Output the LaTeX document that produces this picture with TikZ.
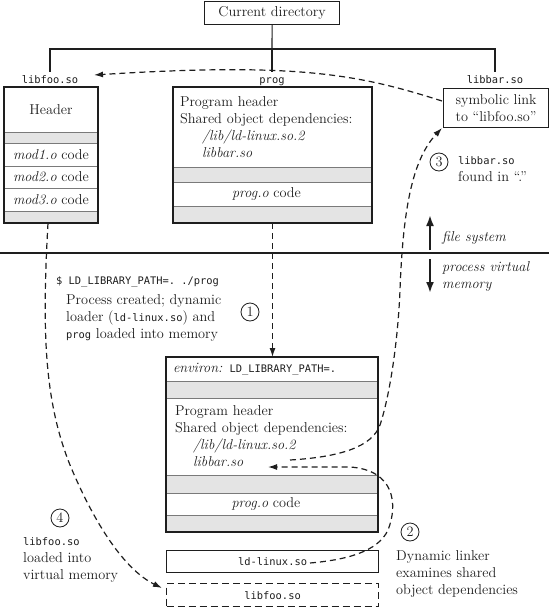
\documentclass[tikz,border=0pt]{standalone}
\usepackage{fontspec}
\setmonofont{DejaVu Sans Mono}
\usetikzlibrary{arrows.meta}
\newcommand\monot[1]{{\fontsize{10.4}{17}\selectfont\ttfamily #1}}
\definecolor{ink}{HTML}{1E1E1E}
\definecolor{band}{HTML}{E4E4E4}
\definecolor{divider}{HTML}{7A7A7A}
\begin{document}
\begin{tikzpicture}[x=1pt,y=-1pt,
  every node/.style={font=\fontsize{14.3}{17}\selectfont, text=ink},
  row/.style={draw=divider, line width=0.6pt, inner sep=0pt, outer sep=0pt, anchor=north west},
  grayrow/.style={row, fill=band},
  frame/.style={draw=ink, line width=1.2pt},
  tree/.style={draw=ink, line width=1.1pt},
  dconn/.style={draw=ink, line width=1.2pt, dash pattern=on 6pt off 4pt, -{Latex[length=9pt,width=6pt]}},
  bigarrow/.style={draw=ink, line width=2pt, -{Latex[length=11pt,width=8pt]}},
  num/.style={draw=ink, circle, line width=0.8pt, minimum size=18pt, inner sep=0pt},
  lbl/.style={inner sep=3pt, anchor=north, text height=8pt, text depth=2pt}
]
\useasboundingbox (0,0) rectangle (549,607);

% ---- top: directory tree ----
\node[frame, minimum width=135pt, minimum height=23pt, inner sep=0pt, anchor=north west] (cur) at (204,1) {Current directory};
\coordinate (junc) at (272,49);
\node[lbl] (lfoo) at (50,72) {\monot{libfoo.so}};
\node[lbl] (lprog) at (272,72) {\monot{prog}};
\node[lbl] (lbar) at (495,72) {\monot{libbar.so}};
\draw[tree] (cur.south) -- (junc);
\draw[tree] (lfoo.north) |- (junc) -| (lbar.north);
\draw[tree] (junc) -- (lprog.north);

% ---- libfoo.so file ----
\node[row, minimum width=94pt, minimum height=45pt] (fh) at (4,87) {Header};
\node[grayrow, minimum width=94pt, minimum height=11pt] (fg1) at (4,132) {};
\node[row, minimum width=94pt, minimum height=23pt] (fm1) at (4,143) {\emph{mod1.o} code};
\node[row, minimum width=94pt, minimum height=22pt] (fm2) at (4,166) {\emph{mod2.o} code};
\node[row, minimum width=94pt, minimum height=23pt] (fm3) at (4,188) {\emph{mod3.o} code};
\node[grayrow, minimum width=94pt, minimum height=12pt] (fg2) at (4,211) {};
\draw[frame] (fh.north west) rectangle (fg2.south east);

% ---- prog file ----
\node[row, minimum width=199pt, minimum height=80pt, inner xsep=7pt, text width=185pt, align=left] (ph) at (173,87)
  {Program header\\Shared object dependencies:\\\hspace*{22pt}\emph{/lib/ld-linux.so.2}\\\hspace*{22pt}\emph{libbar.so}};
\node[grayrow, minimum width=199pt, minimum height=15pt] (pg1) at (173,167) {};
\node[row, minimum width=199pt, minimum height=24pt] (pc) at (173,182) {\hspace*{-12pt}\emph{prog.o} code};
\node[grayrow, minimum width=199pt, minimum height=17pt] (pg2) at (173,206) {};
\draw[frame] (ph.north west) rectangle (pg2.south east);

% ---- libbar.so symlink ----
\node[frame, minimum width=105pt, minimum height=39pt, inner sep=0pt, anchor=north west, align=center] (sym) at (443,88)
  {symbolic link\\to “libfoo.so”};

% ---- separator ----
\draw[draw=ink, line width=1.2pt] (0,253) -- (549,253);
\coordinate (fsup0) at (430,250);
\coordinate (fsup1) at (430,215);
\coordinate (fsdn0) at (430,259);
\coordinate (fsdn1) at (430,293);
\draw[bigarrow] (fsup0) -- (fsup1);
\draw[bigarrow] (fsdn0) -- (fsdn1);
\node[anchor=west, inner sep=0pt] (fstxt) at (442,238) {\emph{file system}};
\node[anchor=west, inner sep=0pt, align=left] (pvtxt) at (442,276) {\emph{process virtual}\\\emph{memory}};

% ---- process virtual memory ----
\node[row, minimum width=212pt, minimum height=24pt, inner xsep=7pt, text width=198pt, align=left] (le) at (166,357)
  {\emph{environ:} \monot{LD\_LIBRARY\_PATH=.}};
\node[grayrow, minimum width=212pt, minimum height=17pt] (lg1) at (166,381) {};
\node[row, minimum width=212pt, minimum height=77pt, inner xsep=9pt, text width=194pt, align=left] (lh) at (166,398)
  {Program header\\Shared object dependencies:\\\hspace*{18pt}\emph{/lib/ld-linux.so.2}\\\hspace*{18pt}\emph{libbar.so}};
\node[grayrow, minimum width=212pt, minimum height=18pt] (lg2) at (166,475) {};
\node[row, minimum width=212pt, minimum height=22pt] (lc) at (166,493) {\hspace*{-12pt}\emph{prog.o} code};
\node[grayrow, minimum width=212pt, minimum height=17pt] (lg3) at (166,515) {};
\draw[frame] (le.north west) rectangle (lg3.south east);

\node[frame, minimum width=212pt, minimum height=22pt, inner sep=0pt, anchor=north west] (ld) at (166,550) {\monot{ld-linux.so}};
\node[draw=ink, line width=1.2pt, dash pattern=on 7pt off 4pt, minimum width=212pt, minimum height=23pt, inner sep=0pt, anchor=north west] (lf) at (166,583) {\monot{libfoo.so}};

% ---- annotations ----
\node[anchor=west, inner sep=0pt] (cmd) at (56,282) {\monot{\$ LD\_LIBRARY\_PATH=. ./prog}};
\node[anchor=west, inner sep=0pt, align=left] (desc) at (66,318)
  {Process created; dynamic\\loader (\monot{ld-linux.so}) and\\\monot{prog} loaded into memory};
\node[num] (n1) at (250,312) {1};
\node[num] (n2) at (410,532) {2};
\node[num] (n3) at (439,162) {3};
\node[num] (n4) at (60,518) {4};
\node[anchor=west, inner sep=0pt, align=left] (t2) at (396,574)
  {Dynamic linker\\examines shared\\object dependencies};
\node[anchor=west, inner sep=0pt, align=left] (t3) at (458,169)
  {\monot{libbar.so}\\found in “.”};
\node[anchor=west, inner sep=0pt, align=left] (t4) at (23,560)
  {\monot{libfoo.so}\\loaded into\\virtual memory};

% ---- dashed connectors ----
\coordinate (symout) at (442,101);
\coordinate (fooin) at (94,75);
\draw[dconn] (symout) .. controls (360,75) and (300,62) .. (fooin);

\draw[dconn] (pg2.south) -- (pg2.south |- le.north);

\coordinate (c2s) at (310,563);
\coordinate (c2m) at (350,467);
\coordinate (c2e) at (268,467);
\draw[dconn] (c2s) .. controls (345,560) and (378,552) .. (388,530)
  .. controls (398,505) and (395,470) .. (c2m) -- (c2e);

\coordinate (c3s) at (290,460);
\coordinate (c3e) at (442,128);
\draw[dconn] (c3s) .. controls (340,457) and (372,447) .. (380,425)
  .. controls (390,395) and (398,340) .. (400,290)
  .. controls (403,210) and (412,160) .. (c3e);

\coordinate (c4s) at (48,223);
\coordinate (c4e) at (162,588);
\draw[dconn] (c4s) .. controls (42,330) and (44,400) .. (70,465)
  .. controls (95,525) and (125,570) .. (c4e);
\end{tikzpicture}
\end{document}
